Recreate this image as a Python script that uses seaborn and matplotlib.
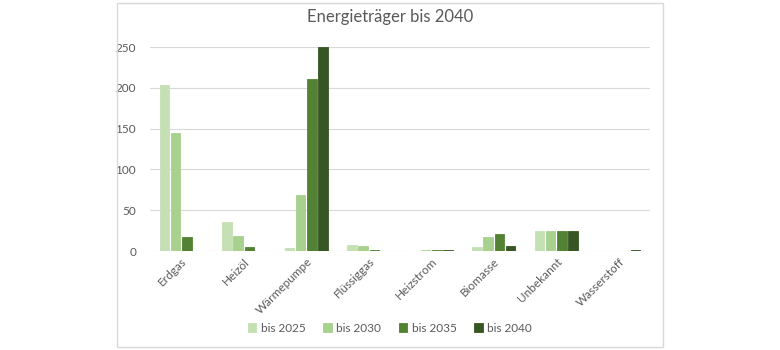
import matplotlib as mpl
mpl.use('Agg')
from matplotlib import pyplot as plt
from matplotlib.patches import Rectangle
import numpy as np
import pandas as pd
import seaborn as sb

sb.set_style("white")
mpl.rcParams['font.family'] = ['Lato', 'DejaVu Sans']

categories = ["Erdgas", "Heizöl", "Wärmepumpe", "Flüssiggas", "Heizstrom",
              "Biomasse", "Unbekannt", "Wasserstoff"]
series = ["bis 2025", "bis 2030", "bis 2035", "bis 2040"]
bis2025 = [203, 36, 4, 7, 0.5, 5, 24, 0]
bis2030 = [145, 18, 69, 6, 0.8, 17, 24, 0]
bis2035 = [17, 5, 211, 1.5, 1.5, 21, 24, 0]
bis2040 = [0, 0, 250, 0, 1.5, 6, 24, 1.5]
colors = ["#c5e0b4", "#a9d18e", "#548235", "#375623"]

rows = []
for s, vals in zip(series, [bis2025, bis2030, bis2035, bis2040]):
    for c, v in zip(categories, vals):
        rows.append({"cat": c, "val": v, "ser": s})
df = pd.DataFrame(rows)

fig = plt.figure(figsize=(7.8, 3.5), dpi=100)
ax1 = fig.add_axes([150/780, 1-251/350, 500/780, 204/350])

sb.barplot(data=df, x="cat", y="val", hue="ser", palette=colors, width=0.72,
           gap=0.15, ax=ax1, saturation=1)
# keep very small bars visible (Excel draws them at least ~1px)
for p in ax1.patches:
    p.set_edgecolor(p.get_facecolor())
    p.set_linewidth(0.6)
    p.set_zorder(3)

ax1.set_ylim(0, 250)
ax1.set_yticks([0, 50, 100, 150, 200, 250])
ax1.grid(axis='y', color='#d9d9d9', linewidth=0.8, zorder=0)
ax1.set_axisbelow(True)
for s in ['top', 'right', 'left', 'bottom']:
    ax1.spines[s].set_visible(False)
ax1.tick_params(axis='both', length=0, labelsize=8.5, labelcolor='#595959')
ax1.tick_params(axis='y', pad=10)
plt.setp(ax1.get_xticklabels(), rotation=45, ha='right', rotation_mode='anchor')
ax1.set_xlabel("")
ax1.set_ylabel("")

leg = ax1.legend(loc='center', bbox_to_anchor=(390/780, 1-328/350),
                 bbox_transform=fig.transFigure, ncol=4, frameon=False,
                 fontsize=8.5, handlelength=0.7, handleheight=0.7,
                 handletextpad=0.4, columnspacing=1.5)
for t in leg.get_texts():
    t.set_color('#595959')

fig.text(0.5, 1-17/350, "Energieträger bis 2040", ha='center', va='center',
         fontsize=12, color='#595959')

fig.patches.append(Rectangle((117/780, 3/350), 546/780, 344/350,
                             transform=fig.transFigure, fill=False,
                             edgecolor='#d9d9d9', linewidth=1))

fig.savefig('out.png', format='png', dpi=100)
